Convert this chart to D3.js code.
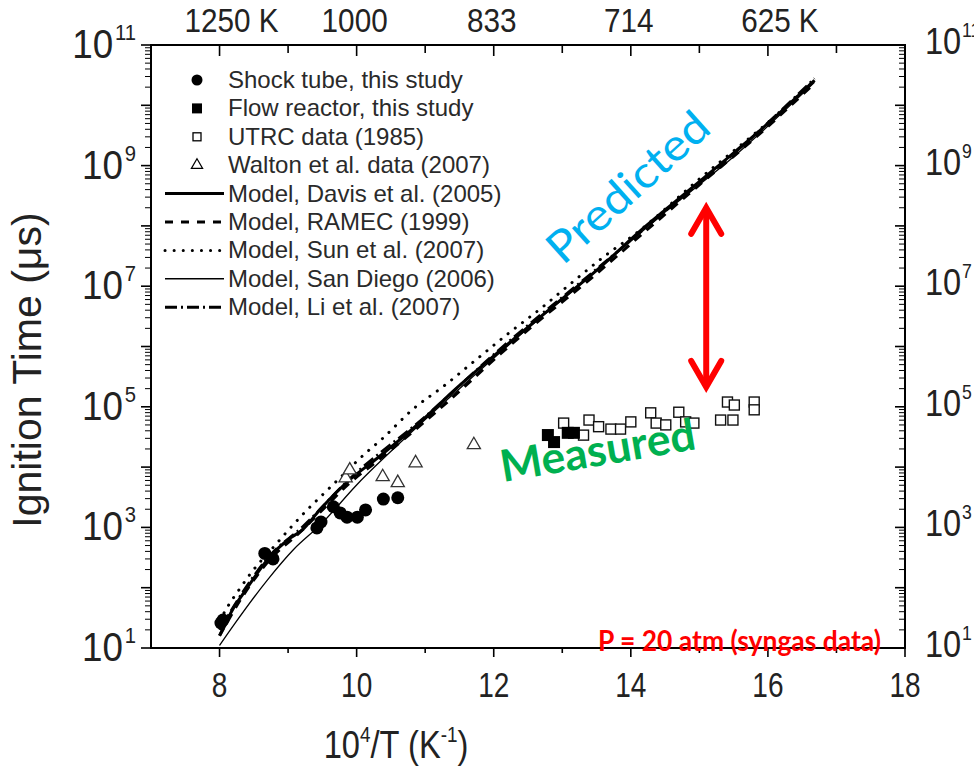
<!DOCTYPE html>
<html><head><meta charset="utf-8">
<script src="https://cdn.jsdelivr.net/npm/d3@7/dist/d3.min.js"></script>
<style>body{margin:0;background:#fff}svg{display:block}</style>
</head><body>
<svg id="c" width="974" height="771"></svg>
<script>
// ---------------- data ----------------
const xTicksBottom = [8, 10, 12, 14, 16, 18];
const xTicksTop = [8, 10, 12, 14, 16];
const xTickLabelsTop = ["1250", "1000", "833", "714", "625"];
const yLabelExponents = [1, 3, 5, 7, 9, 11];

const shockTubeX = [8.02, 8.05, 8.66, 8.78, 9.42, 9.48, 9.66, 9.76, 9.86, 10.01, 10.13, 10.39, 10.6];
const shockTubeY = [26, 29, 370, 300, 980, 1230, 2200, 1740, 1480, 1480, 1950, 2950, 3100];

const flowReactorX = [12.79, 12.88, 13.08, 13.17];
const flowReactorY = [34000, 26000, 37000, 37000];

const utrcX = [13.02, 13.31, 13.39, 13.53, 13.71, 13.85, 14.0, 14.29, 14.37, 14.51, 14.7, 14.8, 14.92, 15.31, 15.49, 15.41, 15.51, 15.8, 15.8];
const utrcY = [53700, 33900, 60300, 46800, 42700, 42700, 56200, 79400, 53700, 50100, 81300, 56200, 53700, 60300, 60300, 120000, 107000, 120000, 89100];

const waltonX = [9.84, 9.9, 10.38, 10.6, 10.86, 11.71];
const waltonY = [6600, 8900, 6900, 5500, 11700, 23400];

const davisX = [8.0, 8.2, 8.35, 8.72, 9.0, 9.2, 9.47, 9.91, 10.3, 10.98, 11.37, 12.1, 12.83, 13.56, 14.15, 14.54, 15.51, 16.0, 16.68];
const davisY = [16, 45, 81, 310, 630, 890, 2000, 6300, 14000, 63000, 166000, 870000, 4.3e6, 2.1e7, 8.5e7, 2.0e8, 1.66e9, 5.0e9, 2.6e10];

const ramecX = [8.0, 8.35, 8.72, 9.2, 9.47, 9.91, 10.3, 10.98, 11.42, 12.1, 12.59, 13.42, 14.15, 15.0, 15.8, 16.64];
const ramecY = [16, 76, 280, 890, 1800, 5600, 12600, 55000, 150000, 760000, 2.3e6, 1.35e7, 7.1e7, 4.8e8, 2.8e9, 2.1e10];

const sunX = [8.0, 8.13, 8.28, 8.45, 8.82, 9.04, 9.26, 9.47, 9.69, 10.13, 10.38, 10.81, 11.27, 11.74, 12.2, 12.69, 13.15, 13.61, 14.1, 15.0, 16.0, 16.65];
const sunY = [28, 51, 91, 170, 520, 1000, 1860, 3200, 5600, 17000, 30000, 89000, 220000, 600000, 1.6e6, 4.3e6, 1.17e7, 3.1e7, 7.9e7, 6.0e8, 5.2e9, 2.4e10];

const sanDiegoX = [8.0, 8.23, 8.7, 9.08, 9.47, 10.01, 10.79, 11.5, 12.5, 13.5, 14.5, 15.5, 16.68];
const sanDiegoY = [11, 26, 135, 430, 1100, 5200, 37000, 200000, 2.0e6, 1.8e7, 1.7e8, 1.4e9, 2.4e10];

const liX = [8.0, 8.35, 8.72, 9.2, 9.91, 10.98, 12.1, 13.56, 14.54, 15.51, 16.68];
const liY = [20, 89, 330, 1000, 6600, 66000, 930000, 2.2e7, 1.9e8, 1.6e9, 2.8e10];

const legendLabels = ["Shock tube, this study", "Flow reactor, this study", "UTRC data (1985)", "Walton et al. data (2007)",
  "Model, Davis et al. (2005)", "Model, RAMEC (1999)", "Model, Sun et al. (2007)", "Model, San Diego (2006)", "Model, Li et al. (2007)"];

// ---------------- layout ----------------
const svg = d3.select("#c");
const L = 151, R = 905, T = 45, B = 648;
const x = d3.scaleLinear().domain([7, 18]).range([L, R]);
const y = d3.scaleLog().domain([10, 1e11]).range([B, T]);
const font = "Arial, 'Liberation Sans', Helvetica, sans-serif";
const ink = "#222";

// ---------------- curves ----------------
const zip = (a, b) => a.map((v, i) => [v, b[i]]);
const line = d3.line().x(d => x(d[0])).y(d => y(d[1])).curve(d3.curveMonotoneX);
const curves = [
  {d: zip(sanDiegoX, sanDiegoY), w: 1.3, dash: null},
  {d: zip(sunX, sunY), w: 3, dash: "0.1 9", cap: "round"},
  {d: zip(ramecX, ramecY), w: 3, dash: "9 7"},
  {d: zip(liX, liY), w: 2.5, dash: "12 4 2 4"},
  {d: zip(davisX, davisY), w: 3, dash: null}
];
curves.forEach(c => {
  svg.append("path").attr("d", line(c.d)).attr("fill", "none").attr("stroke", "#000")
    .attr("stroke-width", c.w).attr("stroke-dasharray", c.dash).attr("stroke-linecap", c.cap || "butt");
});

// ---------------- markers ----------------
const tri = d3.symbol().type(d3.symbolTriangle).size(75);
svg.append("g").selectAll("path").data(zip(waltonX, waltonY)).join("path")
  .attr("d", tri).attr("transform", d => `translate(${x(d[0])},${y(d[1])})`)
  .attr("fill", "#fff").attr("stroke", "#333").attr("stroke-width", 1.3);
svg.append("g").selectAll("rect").data(zip(utrcX, utrcY)).join("rect")
  .attr("x", d => x(d[0]) - 5).attr("y", d => y(d[1]) - 5).attr("width", 10).attr("height", 10)
  .attr("fill", "#fff").attr("stroke", "#111").attr("stroke-width", 1.4);
svg.append("g").selectAll("rect").data(zip(flowReactorX, flowReactorY)).join("rect")
  .attr("x", d => x(d[0]) - 6).attr("y", d => y(d[1]) - 6).attr("width", 12).attr("height", 12)
  .attr("fill", "#000");
svg.append("g").selectAll("circle").data(zip(shockTubeX, shockTubeY)).join("circle")
  .attr("cx", d => x(d[0])).attr("cy", d => y(d[1])).attr("r", 6.5).attr("fill", "#000");

// ---------------- axes frame ----------------
svg.append("rect").attr("x", L).attr("y", T).attr("width", R - L).attr("height", B - T)
  .attr("fill", "none").attr("stroke", "#000").attr("stroke-width", 2);

d3.range(8, 19).forEach(v => {
  const major = v % 2 === 0;
  svg.append("line").attr("x1", x(v)).attr("x2", x(v)).attr("y1", B).attr("y2", B + (major ? 9 : 5))
    .attr("stroke", "#000").attr("stroke-width", 1.6);
  if (v < 18) svg.append("line").attr("x1", x(v)).attr("x2", x(v)).attr("y1", T).attr("y2", T + (major ? 11 : 8))
    .attr("stroke", "#000").attr("stroke-width", 1.6);
});
for (let e = 1; e <= 11; e++) {
  svg.append("line").attr("x1", L - 10).attr("x2", L).attr("y1", y(10 ** e)).attr("y2", y(10 ** e)).attr("stroke", "#000").attr("stroke-width", 1.6);
  svg.append("line").attr("x1", R - 10).attr("x2", R).attr("y1", y(10 ** e)).attr("y2", y(10 ** e)).attr("stroke", "#000").attr("stroke-width", 1.6);
  if (e < 11) for (let m = 2; m <= 9; m++) {
    const yy = y(m * 10 ** e);
    svg.append("line").attr("x1", L - 6).attr("x2", L).attr("y1", yy).attr("y2", yy).attr("stroke", "#000").attr("stroke-width", 1);
    svg.append("line").attr("x1", R - 6).attr("x2", R).attr("y1", yy).attr("y2", yy).attr("stroke", "#000").attr("stroke-width", 1);
  }
}

// tick labels
xTicksBottom.forEach(v => {
  svg.append("g").attr("transform", `translate(${x(v)},${B + 49}) scale(0.8,1)`)
    .append("text").attr("text-anchor", "middle").attr("font-family", font).attr("font-size", 35).attr("fill", ink).text(v);
});
xTicksTop.forEach((v, i) => {
  const g = svg.append("g").attr("transform", `translate(${x(v) - 2},${T - 13}) scale(0.9,1)`);
  const t = g.append("text").attr("text-anchor", "middle").attr("font-family", font).attr("font-size", 33).attr("fill", ink).text(xTickLabelsTop[i]);
  if (i === 0 || i === xTicksTop.length - 1) {
    const w = t.node().getComputedTextLength();
    g.append("text").attr("x", w / 2 + 9).attr("font-family", font).attr("font-size", 33).attr("fill", ink).text("K");
  }
});
yLabelExponents.forEach(e => {
  const yy = y(10 ** e);
  // left labels
  const gl = svg.append("g").attr("transform", `translate(${L - 15},${yy + 13}) scale(0.92,1)`);
  const tl = gl.append("text").attr("text-anchor", "end").attr("font-family", font).attr("font-size", 40).attr("fill", ink);
  tl.append("tspan").text("10");
  tl.append("tspan").attr("dx", 2).attr("dy", -18).attr("font-size", 22).text(e);
  // right labels
  const gr = svg.append("g").attr("transform", `translate(${R + 20},${yy + 9}) scale(0.88,1)`);
  const tr = gr.append("text").attr("text-anchor", "start").attr("font-family", font).attr("font-size", 37).attr("fill", ink);
  tr.append("tspan").text("10");
  tr.append("tspan").attr("dx", 1).attr("dy", -17).attr("font-size", 20).text(e);
});

// axis titles
svg.append("g").attr("transform", `translate(41,370) rotate(-90)`)
  .append("text").attr("text-anchor", "middle").attr("font-family", font).attr("font-size", 41).attr("fill", ink)
  .text("Ignition Time (μs)");
const xt = svg.append("g").attr("transform", `translate(396,758) scale(0.86,1)`)
  .append("text").attr("text-anchor", "middle").attr("font-family", font).attr("font-size", 38).attr("fill", ink);
xt.append("tspan").text("10");
xt.append("tspan").attr("dy", -16).attr("font-size", 22).text("4");
xt.append("tspan").attr("dy", 16).text("/T (K");
xt.append("tspan").attr("dy", -16).attr("font-size", 22).text("-1");
xt.append("tspan").attr("dy", 16).text(")");

// ---------------- legend ----------------
const lg = svg.append("g");
const ly0 = 80, ldy = 28.4, lx = 228, lsx = 197;
legendLabels.forEach((s, i) => {
  lg.append("text").attr("x", lx).attr("y", ly0 + i * ldy + 8).attr("font-family", font).attr("font-size", 24).attr("fill", "#2a2a2a").text(s);
});
lg.append("circle").attr("cx", lsx).attr("cy", ly0).attr("r", 5.5).attr("fill", "#000");
lg.append("rect").attr("x", lsx - 5).attr("y", ly0 + ldy - 5).attr("width", 10).attr("height", 10).attr("fill", "#000");
lg.append("rect").attr("x", lsx - 4).attr("y", ly0 + 2 * ldy - 4).attr("width", 8).attr("height", 8).attr("fill", "#fff").attr("stroke", "#000").attr("stroke-width", 1.3);
lg.append("path").attr("d", d3.symbol().type(d3.symbolTriangle).size(55)).attr("transform", `translate(${lsx},${ly0 + 3 * ldy})`).attr("fill", "#fff").attr("stroke", "#000").attr("stroke-width", 1.2);
const legLines = [[3, null], [3, "8 8"], [3, "0.1 9"], [1.5, null], [3, "12 4 2 4"]];
legLines.forEach(([w, dash], k) => {
  lg.append("line").attr("x1", 165).attr("x2", 224).attr("y1", ly0 + (4 + k) * ldy).attr("y2", ly0 + (4 + k) * ldy)
    .attr("stroke", "#000").attr("stroke-width", w).attr("stroke-dasharray", dash).attr("stroke-linecap", dash === "0.1 9" ? "round" : "butt");
});

// ---------------- annotations ----------------
const ann = "Lato, 'Open Sans', sans-serif";
svg.append("text").attr("transform", "translate(563,266) rotate(-42)").attr("font-family", ann).attr("font-size", 44)
  .attr("fill", "#00b0f0").attr("textLength", 202).attr("lengthAdjust", "spacingAndGlyphs").text("Predicted");
svg.append("text").attr("transform", "translate(503,482) rotate(-9.6)").attr("font-family", ann).attr("font-weight", "bold").attr("font-size", 44)
  .attr("fill", "#00b050").attr("textLength", 197).attr("lengthAdjust", "spacingAndGlyphs").text("Measured");
svg.append("text").attr("x", 598).attr("y", 651).attr("font-family", ann).attr("font-weight", "bold").attr("font-size", 28)
  .attr("fill", "#ff0000").attr("textLength", 283).attr("lengthAdjust", "spacingAndGlyphs").text("P = 20 atm (syngas data)");

// red double arrow
const ax = x(15.1), ay1 = y(10 ** 8.3), ay2 = y(10 ** 5.33);
svg.append("line").attr("x1", ax).attr("x2", ax).attr("y1", ay1 + 6).attr("y2", ay2 - 6).attr("stroke", "#ff0000").attr("stroke-width", 6);
svg.append("path").attr("d", `M${ax - 15},${ay1 + 26} L${ax},${ay1} L${ax + 15},${ay1 + 26}`).attr("fill", "none").attr("stroke", "#ff0000").attr("stroke-width", 6).attr("stroke-linejoin", "miter").attr("stroke-linecap", "round");
svg.append("path").attr("d", `M${ax - 15},${ay2 - 26} L${ax},${ay2} L${ax + 15},${ay2 - 26}`).attr("fill", "none").attr("stroke", "#ff0000").attr("stroke-width", 6).attr("stroke-linejoin", "miter").attr("stroke-linecap", "round");
</script>
</body></html>
